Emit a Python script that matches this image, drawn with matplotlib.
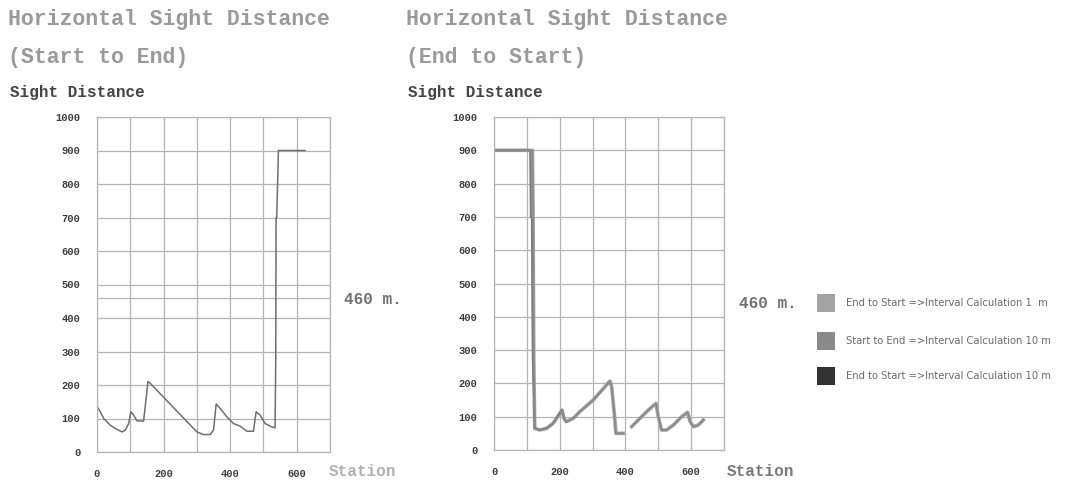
import matplotlib
matplotlib.use("Agg")
import matplotlib.pyplot as plt
from matplotlib.patches import Rectangle

W, H = 1073, 492

# Start to End, interval 10 m
se_station = [0, 10, 20, 40, 55, 75, 85, 95, 102, 110, 120, 140, 147, 153, 160,
              300, 320, 340, 350, 358, 370, 390, 410, 430, 450, 470, 478, 490,
              505, 525, 535, 537, 538, 540, 545, 625]
se_sight = [135, 120, 100, 80, 70, 60, 65, 85, 120, 110, 93, 92, 155, 210, 205,
            60, 52, 52, 65, 143, 130, 105, 85, 77, 62, 62, 120, 110,
            85, 75, 72, 275, 700, 700, 900, 900]

# End to Start, interval 1 m (two pieces, gap near 400)
es1_station_a = [0, 117, 119, 121, 124, 139, 160, 180, 200, 207, 213, 220, 241,
                 261, 302, 353, 358, 368, 371, 393]
es1_sight_a = [900, 900, 700, 275, 65, 60, 65, 80, 110, 120, 95, 85, 95,
               115, 150, 207, 190, 90, 50, 50]
es1_station_b = [419, 444, 470, 493, 500, 510, 525, 546, 571, 589, 597, 607, 622, 637]
es1_sight_b = [70, 95, 120, 140, 100, 60, 60, 75, 100, 113, 85, 70, 75, 90]

# End to Start, interval 10 m
es10_station = [0, 110, 112, 115, 118, 124, 139, 160, 180, 200, 207, 213, 220]
es10_sight = [900, 900, 700, 700, 275, 65, 60, 65, 80, 110, 120, 95, 85]

ref_distance = 460
y_ticks = list(range(0, 1001, 100))
x_grid = list(range(0, 701, 100))
x_labels = [0, 200, 400, 600]

legend_labels = [
    "End to Start =>Interval Calculation 1  m",
    "Start to End =>Interval Calculation 10 m",
    "End to Start =>Interval Calculation 10 m",
]
legend_colors = ["#a3a3a3", "#8a8a8a", "#333333"]

MONO = ["Liberation Mono", "DejaVu Sans Mono"]
GRID = "#b4b4b4"


def fx(x):
    return x / W


def fy(y):
    return 1 - y / H


def setup_axes(ax):
    ax.set_xlim(0, 700)
    ax.set_ylim(0, 1000)
    ax.set_xticks(x_grid)
    ax.set_xticklabels([str(v) if v in x_labels else "" for v in x_grid])
    ax.set_yticks(y_ticks)
    ax.set_yticklabels([str(v) for v in y_ticks])
    ax.grid(True, color=GRID, linewidth=0.9)
    ax.set_axisbelow(True)
    ax.tick_params(length=0, labelsize=7.5, labelcolor="#3c3c3c", pad=12)
    for lab in ax.get_xticklabels() + ax.get_yticklabels():
        lab.set_family(MONO)
        lab.set_fontweight("bold")
    for sp in ax.spines.values():
        sp.set_color(GRID)
        sp.set_linewidth(0.9)


fig = plt.figure(figsize=(W / 100, H / 100), dpi=100)
fig.patch.set_facecolor("white")

ax1 = fig.add_axes([fx(97), fy(452), fx(233), 335 / H])
ax2 = fig.add_axes([fx(494), fy(450), fx(230), 333 / H])
setup_axes(ax1)
setup_axes(ax2)

ax1.axhline(ref_distance, color=GRID, linewidth=0.9, zorder=0.5)
ax1.plot(se_station, se_sight, color="#6e6e6e", linewidth=1.1)

ax2.plot(es1_station_a, es1_sight_a, color=legend_colors[0], linewidth=2.6,
         solid_joinstyle="round")
ax2.plot(es1_station_b, es1_sight_b, color=legend_colors[0], linewidth=2.6,
         solid_joinstyle="round")
ax2.plot(es10_station, es10_sight, color="#7c7c7c", linewidth=1.4)
ax2.plot(es1_station_a, es1_sight_a, color="#8a8a8a", linewidth=1.2)
ax2.plot(es1_station_b, es1_sight_b, color="#8a8a8a", linewidth=1.2)

# headings
for x0, sub in [(8, "(Start to End)"), (406, "(End to Start)")]:
    fig.text(fx(x0), fy(20), "Horizontal Sight Distance", family=MONO,
             fontweight="bold", fontsize=15.5, color="#9a9a9a", va="center")
    fig.text(fx(x0), fy(57), sub, family=MONO, fontweight="bold",
             fontsize=15.5, color="#9a9a9a", va="center")
    fig.text(fx(x0 + 2), fy(92), "Sight Distance", family=MONO,
             fontweight="bold", fontsize=11.5, color="#444444", va="center")

fig.text(fx(344), fy(300), f"{ref_distance} m.", family=MONO, fontweight="bold",
         fontsize=11.5, color="#707070", va="center")
fig.text(fx(739), fy(303), f"{ref_distance} m.", family=MONO, fontweight="bold",
         fontsize=11.5, color="#707070", va="center")

fig.text(fx(329), fy(472), "Station", family=MONO, fontweight="bold",
         fontsize=11.5, color="#b0b0b0", va="center")
fig.text(fx(727), fy(472), "Station", family=MONO, fontweight="bold",
         fontsize=11.5, color="#7a7a7a", va="center")

# legend
for i, (lab, col) in enumerate(zip(legend_labels, legend_colors)):
    yc = [303, 341, 376][i]
    fig.add_artist(Rectangle((fx(817), fy(yc + 9)), fx(18), 18 / H,
                             transform=fig.transFigure, facecolor=col,
                             edgecolor="none"))
    fig.text(fx(846), fy(yc), lab, fontsize=7.2, color="#6a6a6a", va="center",
             family="DejaVu Sans")

fig.savefig("out.png", dpi=100, facecolor="white")
